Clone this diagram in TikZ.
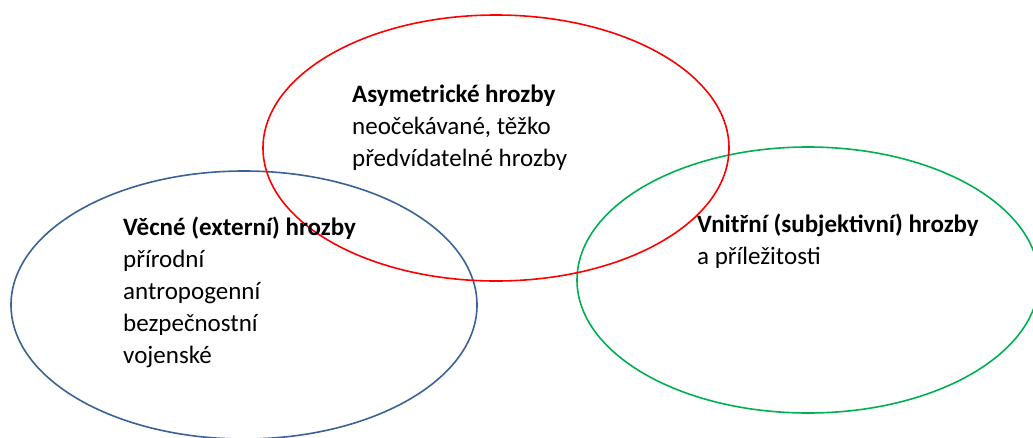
\documentclass[tikz,border=0pt]{standalone}
\usepackage{fontspec}
\setmainfont{Carlito}
\usetikzlibrary{shapes.geometric}
\definecolor{vblue}{HTML}{3A6296}
\definecolor{vred}{HTML}{FF0000}
\definecolor{vgreen}{HTML}{00B050}
\tikzset{
  venn/.style={ellipse, draw, line width=1.6pt, inner sep=0pt, minimum width=466pt, minimum height=266pt},
  txt/.style={anchor=base west, align=left, inner sep=0pt, font=\fontsize{25}{32}\selectfont}
}
\begin{document}
\begin{tikzpicture}[x=1pt,y=-1pt]
\useasboundingbox (0,0) rectangle (1033,437);
\node[venn, draw=vblue, minimum height=268pt] (ext) at (244,305) {};
\node[venn, draw=vgreen, minimum width=462pt] (int) at (808,280) {};
\node[venn, draw=vred] (asym) at (496,148) {};
% base anchor of a multi-line node sits on its last line
\node[txt] (tasym) at (352,166) {\textbf{Asymetrické hrozby}\\neočekávané, těžko\\předvídatelné hrozby};
\node[txt] (text) at (123,363) {\textbf{Věcné (externí) hrozby}\\přírodní\\antropogenní\\bezpečnostní\\vojenské};
\node[txt] (tint) at (697,264) {\textbf{Vnitřní (subjektivní) hrozby}\\a příležitosti};
\end{tikzpicture}
\end{document}
